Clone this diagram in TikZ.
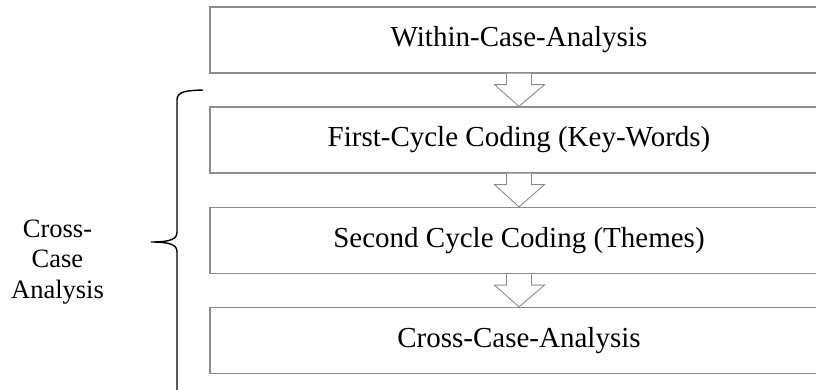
\documentclass[tikz,border=0pt]{standalone}
\usepackage{fontspec}
\setmainfont{Liberation Serif}
\usetikzlibrary{calc}
\definecolor{boxgray}{HTML}{8C8C8C}
\definecolor{arrowgray}{HTML}{8C8C8C}
\tikzset{
  stagebox/.style={draw=boxgray, line width=1.3pt, minimum width=618pt, minimum height=66pt,
    inner sep=0pt, font=\fontsize{29}{34}\selectfont},
  sidelabel/.style={align=center, inner sep=0pt, font=\fontsize{26.5}{30.5}\selectfont},
  bracepath/.style={draw=black, line width=1.4pt},
  flowarrow/.style={draw=arrowgray, line width=0.9pt, line join=miter}
}
\newcommand{\flowarr}[2]{%
  \fill[white] ($(#1.south)+(-12.5,0)$) -- ($(#1.south)+(-12.5,11)$) -- ($(#1.south)+(-24.5,11)$)
     -- (#2.north) -- ($(#1.south)+(25.5,11)$) -- ($(#1.south)+(12.5,11)$) -- ($(#1.south)+(12.5,0)$) -- cycle;
  \draw[flowarrow] ($(#1.south)+(-12.5,0)$) -- ($(#1.south)+(-12.5,11)$) -- ($(#1.south)+(-24.5,11)$)
     -- (#2.north) -- ($(#1.south)+(25.5,11)$) -- ($(#1.south)+(12.5,11)$) -- ($(#1.south)+(12.5,0)$);
}
\begin{document}
\begin{tikzpicture}[x=1pt,y=-1pt]
\useasboundingbox[fill=white] (0,0) rectangle (816,389);
\clip (0,0) rectangle (816,389);
\node[stagebox] (b1) at (519,40) {Within-Case-Analysis};
\node[stagebox] (b2) at (519,140) {First-Cycle Coding (Key-Words)};
\node[stagebox] (b3) at (519,240.5) {Second Cycle Coding (Themes)};
\node[stagebox] (b4) at (519,340.5) {Cross-Case-Analysis};
\flowarr{b1}{b2}
\flowarr{b2}{b3}
\flowarr{b3}{b4}
\node[sidelabel] (lbl) at (57.5,262) {Cross-\\Case\\Analysis};
\coordinate (btop) at (203,90);
\coordinate (btip) at (151,242);
\coordinate (bbot) at (203,404);
\draw[bracepath] (btop) .. controls (186,90.5) and (177,91.5) .. (177,100)
  -- (177,232) .. controls (177,239) and (171,242) .. (btip)
  .. controls (171,242) and (177,245) .. (177,252)
  -- (177,394) .. controls (177,402.5) and (186,403.5) .. (bbot);
\end{tikzpicture}
\end{document}
